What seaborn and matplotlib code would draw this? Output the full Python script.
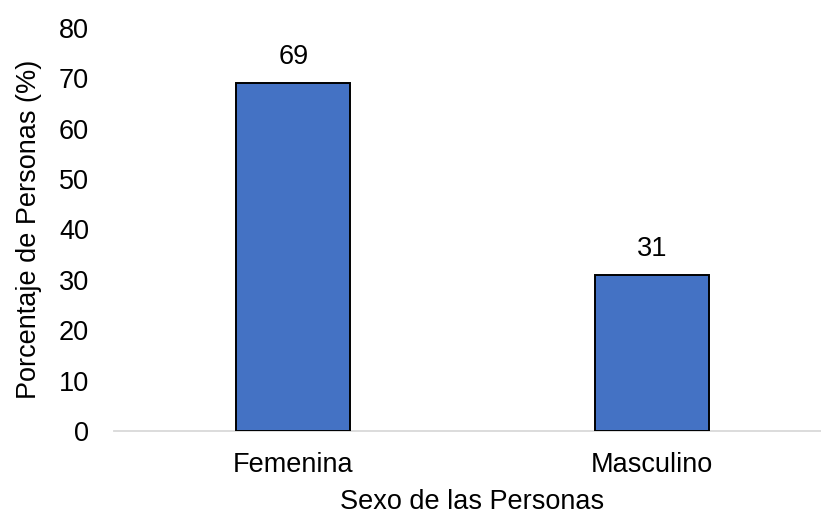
import matplotlib
matplotlib.use('Agg')
import matplotlib.pyplot as plt
import seaborn as sns
import pandas as pd

# data
categorias = ['Femenina', 'Masculino']
porcentajes = [69, 31]
y_ticks = [0, 10, 20, 30, 40, 50, 60, 70, 80]

sns.set_theme(style='white')
plt.rcParams['font.family'] = ['Liberation Sans', 'DejaVu Sans']

df = pd.DataFrame({'sexo': categorias, 'pct': porcentajes})

fig = plt.figure(figsize=(8.21, 5.17), dpi=100)
ax = fig.add_axes([114 / 821, 1 - 431 / 517, 717 / 821, 403 / 517])

sns.barplot(data=df, x='sexo', y='pct', color='#4472C4', width=0.317,
            edgecolor='black', linewidth=1.4, saturation=1, ax=ax)

fs = 19.5
for i, v in enumerate(porcentajes):
    ax.text(i, v + 2.6, f'{v}', ha='center', va='bottom', fontsize=fs, color='black')

ax.set_ylim(0, 80)
ax.set_xlim(-0.5, 1.5)
ax.set_yticks(y_ticks)
ax.tick_params(axis='y', labelsize=fs, length=0, pad=18, colors='black')
ax.tick_params(axis='x', labelsize=fs, length=0, pad=15, colors='black')
ax.set_ylabel('Porcentaje de Personas (%)', fontsize=fs, color='black', labelpad=12)
ax.set_xlabel('Sexo de las Personas', fontsize=fs, color='black', labelpad=8)

for side in ['top', 'right', 'left']:
    ax.spines[side].set_visible(False)
ax.spines['bottom'].set_color('#d9d9d9')
ax.spines['bottom'].set_linewidth(1.3)
ax.spines['bottom'].set_zorder(0)

fig.savefig('out.png', dpi=100)
